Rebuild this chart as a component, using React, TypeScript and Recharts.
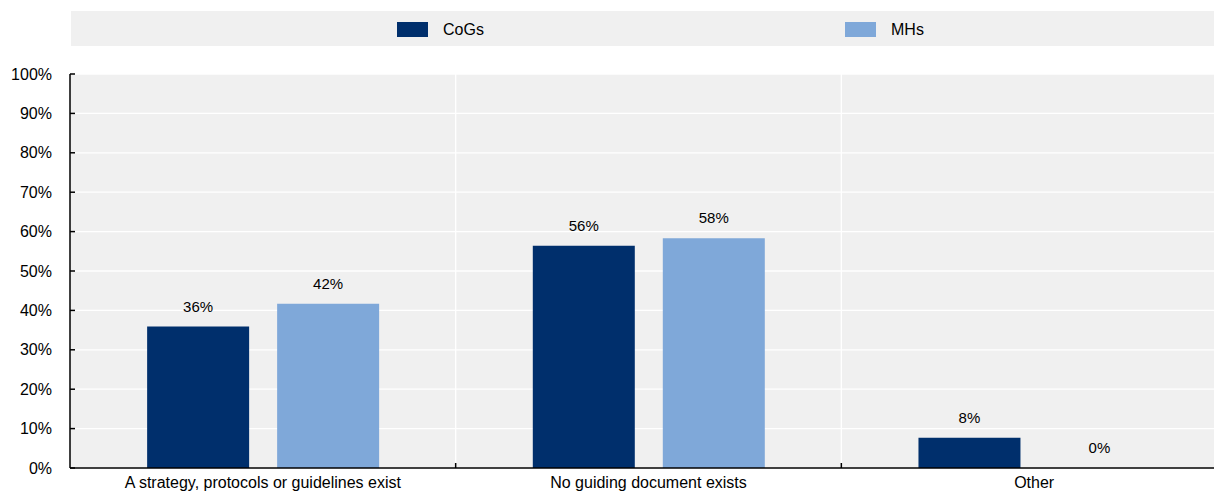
import React from 'react';
import { BarChart, Bar, XAxis, YAxis, CartesianGrid, Legend, LabelList } from 'recharts';

const categories = ['A strategy, protocols or guidelines exist', 'No guiding document exists', 'Other'];
const seriesNames = ['CoGs', 'MHs'];
const cogsValues = [35.9, 56.4, 7.7];
const mhsValues = [41.7, 58.3, 0];
const yTicks = [0, 10, 20, 30, 40, 50, 60, 70, 80, 90, 100];

const data = categories.map((c, i) => ({ category: c, cogs: cogsValues[i], mhs: mhsValues[i] }));

const FONT = "Arial, 'Liberation Sans', sans-serif";
const W = 1228;
const H = 494;
const MARGIN = { top: 74, right: 1, bottom: 0, left: 0 };
const XH = 26;
const YW = 70;
const PLOT_W = W - MARGIN.left - MARGIN.right - YW;
const BAND = PLOT_W / categories.length;
const COLORS = ['#002F6C', '#7FA8D9'];
const LEGEND_X = [326, 774];

const XTick = (props: any) => {
  const { x, y, payload } = props;
  const axisY = y - 9;
  const bx = x - BAND / 2;
  return (
    <g>
      {bx > YW + 2 && (
        <line x1={bx} x2={bx} y1={axisY} y2={axisY - 5} stroke="#000" strokeWidth={1.5} />
      )}
      <text x={x} y={y} dy="0.71em" textAnchor="middle" fill="#000" fontSize={16} fontFamily={FONT}>
        {payload.value}
      </text>
    </g>
  );
};

const LegendContent = (props: any) => {
  const payload = props.payload || [];
  return (
    <div style={{ position: 'relative', width: '100%', height: 35, background: '#F0F0F0' }}>
      {payload.map((p: any, i: number) => (
        <div
          key={String(p.value)}
          style={{
            position: 'absolute',
            left: LEGEND_X[i],
            top: 1,
            height: 35,
            display: 'flex',
            alignItems: 'center',
          }}
        >
          <span style={{ width: 31, height: 15, background: p.color, display: 'inline-block' }} />
          <span style={{ marginLeft: 15, fontSize: 16, color: '#000', fontFamily: FONT }}>{p.value}</span>
        </div>
      ))}
    </div>
  );
};

const fmt = (v: any) => `${Math.round(Number(v))}%`;

export default function App() {
  return (
    <div style={{ position: 'absolute', left: 0, top: 0, width: 1214, height: 494, overflow: 'hidden', background: '#fff' }}>
      <BarChart
        width={W}
        height={H}
        data={data}
        margin={MARGIN}
        barCategoryGap="20%"
        barGap={28}
      >
        <CartesianGrid
          fill="#F0F0F0"
          stroke="#FFFFFF"
          strokeWidth={1.3}
          verticalCoordinatesGenerator={({ offset }: any) =>
            categories.slice(1).map((_, i) => offset.left + ((i + 1) * offset.width) / categories.length)
          }
        />
        <XAxis
          dataKey="category"
          height={XH}
          axisLine={{ stroke: '#000', strokeWidth: 1.5 }}
          tickLine={false}
          tickSize={0}
          tickMargin={9}
          interval={0}
          tick={<XTick />}
        />
        <YAxis
          width={YW}
          domain={[0, 100]}
          ticks={yTicks}
          interval={0}
          tickFormatter={(v: number) => `${v}%`}
          axisLine={{ stroke: '#000', strokeWidth: 1.5 }}
          tickLine={{ stroke: '#000', strokeWidth: 1.5 }}
          tickSize={-5}
          tickMargin={23}
          tick={{ fill: '#000', fontSize: 16, fontFamily: FONT }}
        />
        <Legend
          layout="horizontal"
          verticalAlign="middle"
          align="center"
          wrapperStyle={{ position: 'absolute', top: 11, left: 71, width: 1157, height: 35, margin: 0 }}
          content={<LegendContent />}
        />
        <Bar dataKey="cogs" name={seriesNames[0]} fill={COLORS[0]} isAnimationActive={false}>
          <LabelList dataKey="cogs" position="top" offset={15} formatter={fmt} fill="#000" fontSize={15} fontFamily={FONT} />
        </Bar>
        <Bar dataKey="mhs" name={seriesNames[1]} fill={COLORS[1]} minPointSize={0.01} isAnimationActive={false}>
          <LabelList dataKey="mhs" position="top" offset={15} formatter={fmt} fill="#000" fontSize={15} fontFamily={FONT} />
        </Bar>
      </BarChart>
    </div>
  );
}
